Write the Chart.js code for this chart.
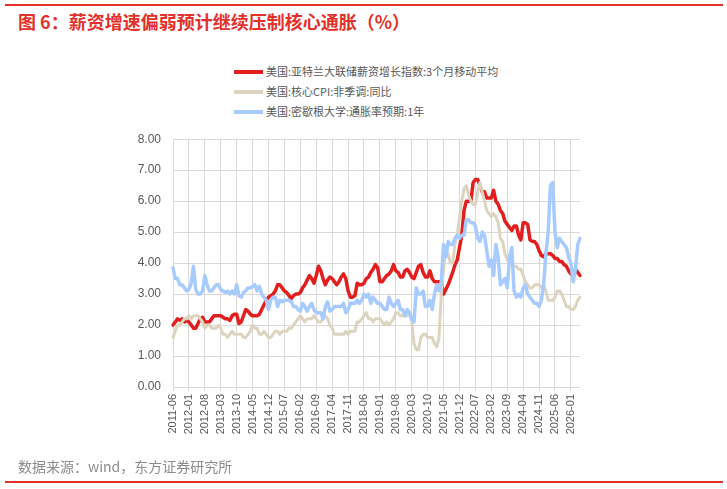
<!DOCTYPE html>
<html>
<head>
<meta charset="utf-8">
<script src="https://cdn.jsdelivr.net/npm/chart.js@4"></script>
<style>
  body { margin: 0; width: 727px; height: 489px; background: #fff; position: relative; overflow: hidden; font-family: "Liberation Sans", "Noto Sans CJK SC", sans-serif; }
  .topline { position: absolute; left: 5px; top: 4px; width: 718px; height: 2px; background: #e3302a; }
  .title { position: absolute; left: 18px; top: 8px; font: bold 18px "Noto Sans CJK SC", sans-serif; color: #e3302a; white-space: nowrap; }
  .legend { position: absolute; left: 234px; top: 62px; font: 11px "Noto Sans CJK SC", sans-serif; color: #595959; }
  .legend div { height: 20px; line-height: 18px; white-space: nowrap; }
  .legend span { display: inline-block; width: 29px; height: 4px; vertical-align: middle; margin-right: 3px; margin-top: -2px; }
  .source { position: absolute; left: 18px; top: 456px; font: 14px "Noto Sans CJK SC", sans-serif; color: #8c8c8c; white-space: nowrap; }
  .bottomline { position: absolute; left: 5px; top: 481px; width: 718px; height: 2px; background: #e3302a; }
  #chart { position: absolute; left: 0; top: 120px; }
</style>
</head>
<body>
<div class="topline"></div>
<div class="title">图 6：薪资增速偏弱预计继续压制核心通胀（%）</div>
<div class="legend">
  <div><span style="background:#e31e1e"></span>美国:亚特兰大联储薪资增长指数:3个月移动平均</div>
  <div><span style="background:#ddd4c0"></span>美国:核心CPI:非季调:同比</div>
  <div><span style="background:#a8cbff"></span>美国:密歇根大学:通胀率预期:1年</div>
</div>
<canvas id="chart" width="727" height="340"></canvas>
<div class="source">数据来源：wind，东方证券研究所</div>
<div class="bottomline"></div>
<script>
// monthly categories 2011-06 .. 2026-05
const months = [];
for (let y = 2011, m = 6; y < 2026 || m <= 5; m++) {
  if (m > 12) { m = 1; y++; }
  months.push(y + "-" + String(m).padStart(2, "0"));
  if (y === 2026 && m === 5) break;
}

// 亚特兰大联储薪资增长指数 3MMA
const wage = [
  2.0, 2.1, 2.2, 2.15, 2.2, 2.1, 2.15,
  2.1, 2.0, 1.9, 1.9, 2.05, 2.2, 2.25, 2.1, 2.1, 2.1, 2.2, 2.3,
  2.3, 2.3, 2.3, 2.25, 2.2, 2.2, 2.15, 2.3, 2.35, 2.35, 2.05, 2.1,
  2.3, 2.5, 2.45, 2.35, 2.3, 2.3, 2.3, 2.35, 2.5, 2.65, 2.8, 2.9,
  2.95, 3.0, 3.1, 3.3, 3.3, 3.2, 3.1, 3.05, 2.95, 2.85, 2.95, 3.0,
  3.0, 3.05, 3.2, 3.3, 3.45, 3.6, 3.5, 3.35, 3.6, 3.9, 3.75, 3.5,
  3.3, 3.45, 3.55, 3.5, 3.4, 3.3, 3.4, 3.55, 3.65, 3.5, 3.1, 2.9,
  2.9, 2.95, 3.35, 3.3, 3.3, 3.35, 3.5, 3.55, 3.7, 3.8, 3.95, 3.85,
  3.4, 3.4, 3.5, 3.6, 3.65, 3.75, 3.95, 3.75, 3.7, 3.55, 3.55, 3.75,
  3.8, 3.7, 3.55, 3.5, 3.7, 3.9, 3.95, 3.7, 3.55, 3.55, 3.75, 3.5,
  3.4, 3.4, 3.4, 3.4, 3.0, 3.15, 3.3, 3.5, 3.7, 3.95, 4.1, 4.5,
  4.9, 5.7, 6.0, 6.0, 6.0, 6.6, 6.7, 6.7, 6.5, 6.3, 6.3, 6.1,
  6.1, 6.1, 6.35, 6.0, 5.9, 5.7, 5.6, 5.35, 5.25, 5.15, 5.05, 5.2,
  5.2, 4.9, 4.75, 5.3, 5.3, 5.25, 4.75, 4.7, 4.7, 4.6, 4.4, 4.25,
  4.2, 4.3, 4.3, 4.3, 4.25, 4.15, 4.15, 4.05, 4.05, 3.95, 3.9, 3.75,
  3.65, 3.7, 3.8, 3.7, 3.6
];

// 核心CPI 同比
const coreCpi = [
  1.6, 1.8, 2.0, 2.0, 2.1, 2.2, 2.2,
  2.3, 2.2, 2.3, 2.3, 2.3, 2.2, 2.1, 1.9, 2.0, 2.0, 1.9, 1.9,
  1.9, 2.0, 1.9, 1.7, 1.7, 1.6, 1.7, 1.8, 1.7, 1.7, 1.7, 1.7,
  1.6, 1.6, 1.7, 1.8, 2.0, 1.9, 1.9, 1.7, 1.7, 1.8, 1.7, 1.6,
  1.6, 1.7, 1.8, 1.8, 1.7, 1.8, 1.8, 1.8, 1.9, 1.9, 2.0, 2.1,
  2.2, 2.3, 2.2, 2.1, 2.2, 2.2, 2.2, 2.3, 2.2, 2.1, 2.1, 2.2,
  2.3, 2.2, 2.0, 1.9, 1.7, 1.7, 1.7, 1.7, 1.7, 1.8, 1.7, 1.8,
  1.8, 1.8, 2.1, 2.1, 2.2, 2.3, 2.4, 2.2, 2.2, 2.1, 2.2, 2.2,
  2.2, 2.1, 2.0, 2.1, 2.0, 2.1, 2.2, 2.4, 2.4, 2.3, 2.3, 2.3,
  2.3, 2.4, 2.1, 1.4, 1.2, 1.2, 1.6, 1.7, 1.7, 1.6, 1.6, 1.6,
  1.4, 1.3, 1.6, 3.0, 3.8, 4.5, 4.3, 4.0, 4.0, 4.6, 4.9, 5.5,
  6.0, 6.4, 6.5, 6.2, 6.0, 5.9, 5.9, 6.3, 6.6, 6.3, 6.0, 5.7,
  5.6, 5.5, 5.6, 5.5, 5.3, 4.8, 4.7, 4.3, 4.1, 4.0, 4.0, 3.9,
  3.9, 3.8, 3.8, 3.6, 3.4, 3.3, 3.2, 3.2, 3.3, 3.3, 3.3, 3.2,
  3.3, 3.1, 2.8, 2.8, 2.8, 2.9, 3.1, 3.1, 3.0, 2.8, 2.6, 2.6,
  2.5, 2.5, 2.6, 2.8, 2.9
];

// 密歇根大学 1年通胀预期
const michigan = [
  3.85, 3.5, 3.5, 3.3, 3.3, 3.2, 3.1,
  3.15, 3.35, 3.9, 3.15, 3.0, 3.0, 3.1, 3.6, 3.3, 3.1, 3.1, 3.2,
  3.3, 3.3, 3.15, 3.1, 3.05, 3.1, 3.0, 3.1, 3.0, 3.3, 2.95, 2.9,
  3.05, 3.1, 3.2, 3.2, 3.25, 3.3, 3.1, 3.25, 3.0, 2.9, 2.8, 2.5,
  2.8, 2.9, 2.9, 2.6, 2.8, 2.75, 2.8, 2.8, 2.8, 2.75, 2.6, 2.6,
  2.5, 2.45, 2.7, 2.6, 2.45, 2.6, 2.7, 2.5, 2.4, 2.4, 2.4, 2.2,
  2.6, 2.75, 2.45, 2.5, 2.6, 2.6, 2.6, 2.6, 2.7, 2.4, 2.5, 2.7,
  2.7, 2.7, 2.8, 2.7, 2.8, 3.0, 2.9, 3.0, 2.7, 2.9, 2.8, 2.7,
  2.7, 2.6, 2.5, 2.5, 2.9, 2.7, 2.6, 2.7, 2.8, 2.5, 2.5, 2.3,
  2.5, 2.4, 2.2, 2.1, 3.2, 3.0, 3.0, 3.1, 2.6, 2.6, 2.8, 2.5,
  3.0, 3.3, 3.1, 3.4, 4.6, 4.2, 4.7, 4.6, 4.6, 4.8, 4.9, 4.8,
  4.9, 4.9, 5.4, 5.4, 5.3, 5.3, 5.2, 4.8, 4.7, 5.0, 4.9, 4.4,
  3.9, 4.1, 3.6, 4.6, 4.2, 3.3, 3.4, 3.5, 3.2, 4.2, 4.5, 3.1,
  2.9, 3.0, 2.9, 3.2, 3.3, 3.0, 2.9, 2.8, 2.7, 2.7, 2.6, 2.8,
  3.3, 4.3, 5.0, 6.5, 6.6, 5.0, 4.5, 4.8, 4.7, 4.6, 4.5, 4.2,
  4.0, 3.4, 3.8, 4.6, 4.8
];

const yTicks = [0, 1, 2, 3, 4, 5, 6, 7, 8];
const labelStep = 7;

const gridColor = "#d9d9d9";
const ctx = document.getElementById("chart").getContext("2d");

new Chart(ctx, {
  type: "line",
  data: {
    labels: months,
    datasets: [
      { label: "美国:亚特兰大联储薪资增长指数:3个月移动平均", data: wage, borderColor: "#e31e1e", borderWidth: 3.5, order: 2 },
      { label: "美国:核心CPI:非季调:同比", data: coreCpi, borderColor: "#ddd4c0", borderWidth: 3, order: 1 },
      { label: "美国:密歇根大学:通胀率预期:1年", data: michigan, borderColor: "#a8cbff", borderWidth: 3.5, order: 0 },
    ],
  },
  options: {
    responsive: false,
    animation: false,
    elements: {
      point: { radius: 0 },
      line: { tension: 0, borderJoinStyle: "round", borderCapStyle: "round" },
    },
    layout: { padding: { top: 16, right: 147, left: 0, bottom: 0 } },
    plugins: { legend: { display: false }, tooltip: { enabled: false } },
    scales: {
      x: {
        offset: false,
        grid: { color: gridColor, tickLength: 4 },
        border: { display: false },
        ticks: {
          autoSkip: false,
          minRotation: 90,
          maxRotation: 90,
          padding: 3,
          color: "#595959",
          font: { family: "Liberation Sans", size: 11 },
          callback: function (val, i) {
            return i % labelStep === 0 ? months[i] : null;
          },
        },
        afterFit: function (scale) { scale.height = 73; },
      },
      y: {
        min: 0,
        max: 8,
        afterBuildTicks: function (scale) {
          scale.ticks = yTicks.map((v) => ({ value: v }));
        },
        grid: { color: gridColor, drawTicks: false },
        border: { display: false },
        ticks: {
          padding: 12,
          color: "#595959",
          font: { family: "Liberation Sans", size: 12 },
          callback: (v) => v.toFixed(2),
        },
        afterFit: function (scale) { scale.width = 173; },
      },
    },
  },
});
</script>
</body>
</html>
